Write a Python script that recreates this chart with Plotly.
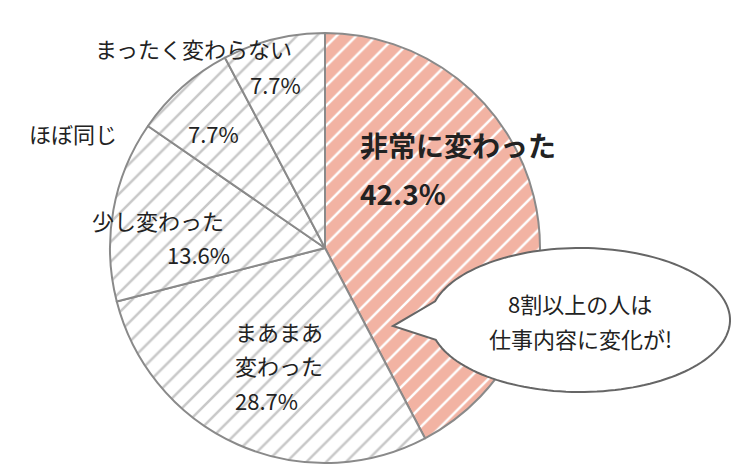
import numpy as np
import plotly.graph_objects as go

labels = ["非常に変わった", "まあまあ変わった", "少し変わった", "ほぼ同じ", "まったく変わらない"]
values = [42.3, 28.7, 13.6, 7.7, 7.7]
bg_colors = ["#F2B3A3", "#FFFFFF", "#FFFFFF", "#FFFFFF", "#FFFFFF"]
fg_colors = ["#FFFFFF", "#C8C8C8", "#C8C8C8", "#C8C8C8", "#C8C8C8"]

W, H = 750, 475
FONT = "Noto Sans CJK JP"

fig = go.Figure(go.Pie(
    labels=labels, values=values, sort=False, direction="clockwise", rotation=0,
    textinfo="none", hoverinfo="skip", showlegend=False,
    marker=dict(colors=bg_colors, line=dict(color="#8A8A8A", width=2),
                pattern=dict(shape="/", fgcolor=fg_colors, bgcolor=bg_colors, size=14, solidity=0.18)),
    domain=dict(x=[98/W, 536/W], y=[1-455/H, 1-25/H]),
))

def P(x, y):
    return x/W, 1-y/H

# speech bubble (ellipse with tail)
cx, cy, rx, ry = 572, 312, 150, 72
t = np.linspace(np.radians(196), np.radians(165+360), 140)
pts = [(cx+rx*np.cos(a), cy-ry*np.sin(a)) for a in t]
path = "M " + " L ".join(f"{P(x,y)[0]:.4f},{P(x,y)[1]:.4f}" for x, y in pts)
tx, ty = P(385, 318)
path += f" L {tx:.4f},{ty:.4f} Z"
fig.add_shape(type="path", path=path, xref="paper", yref="paper",
              fillcolor="white", line=dict(color="#666", width=2))

def ann(text, x, y, size=22, bold=False, anchor="center", color="#222"):
    px, py = P(x, y)
    fig.add_annotation(text=f"<b>{text}</b>" if bold else text, x=px, y=py, xref="paper", yref="paper",
                       showarrow=False, xanchor=anchor, yanchor="middle",
                       font=dict(family=FONT, size=size, color=color))

ann("非常に変わった", 350, 137, 28, True, "left")
ann("42.3%", 350, 185, 28, True, "left")
ann("8割以上の人は", 572, 295, 22)
ann("仕事内容に変化が!", 572, 330, 22)
ann("まあまあ", 225, 323, 22, anchor="left")
ann("変わった", 225, 357, 22, anchor="left")
ann("28.7%", 225, 392, 22, anchor="left")
ann("少し変わった", 150, 212, 22)
ann("13.6%", 190, 246, 22)
ann("ほぼ同じ", 65, 125, 22)
ann("7.7%", 205, 125, 22)
ann("まったく変わらない", 185, 40, 22)
ann("7.7%", 267, 76, 22)

fig.update_layout(width=W, height=H, margin=dict(l=0, r=0, t=0, b=0),
                  paper_bgcolor="white", plot_bgcolor="white")
fig.write_html("out.html")
